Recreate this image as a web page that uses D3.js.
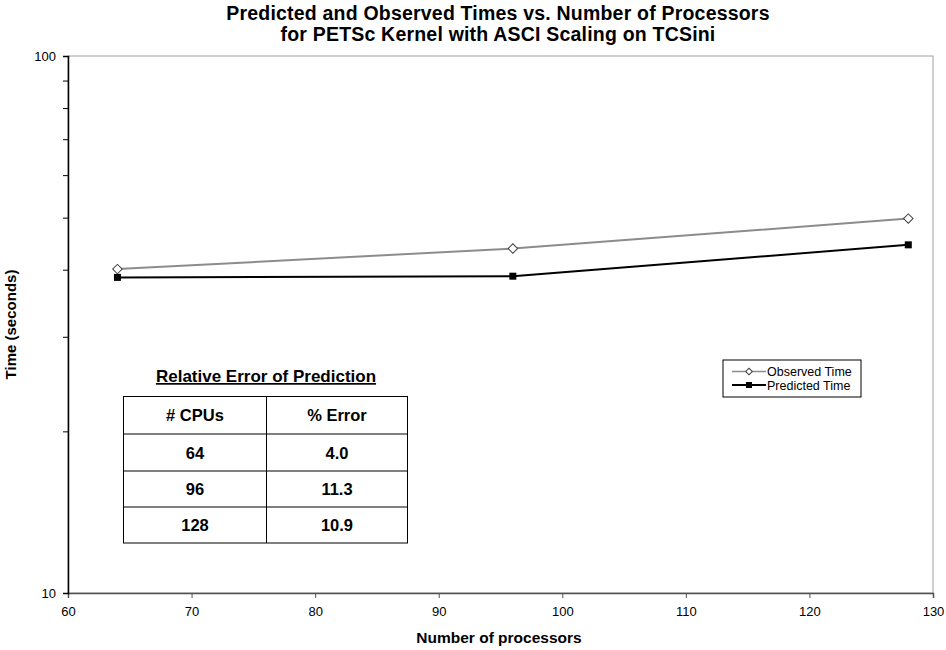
<!DOCTYPE html>
<html>
<head>
<meta charset="utf-8">
<script src="https://cdn.jsdelivr.net/npm/d3@7"></script>
<style>
  body { margin: 0; background: #fff; }
  svg text { font-family: Arial, "Liberation Sans", sans-serif; }
</style>
</head>
<body>
<svg id="chart" width="946" height="650"></svg>
<script>
// chart data
var processors = [64, 96, 128];
var observedTime = [40.1, 43.8, 49.8];
var predictedTime = [38.7, 38.9, 44.5];

var xTicks = [60, 70, 80, 90, 100, 110, 120, 130];
var yLabels = [10, 100];
var yMinor = [20, 30, 40, 50, 60, 70, 80, 90];

var errorHeader = ["# CPUs", "% Error"];
var errorCpus = ["64", "96", "128"];
var errorPct = ["4.0", "11.3", "10.9"];

var seriesNames = ["Observed Time", "Predicted Time"];

var margin = { left: 68, top: 56, right: 933, bottom: 593 };

var svg = d3.select("#chart");

var x = d3.scaleLinear().domain([60, 130]).range([margin.left, margin.right]);
var y = d3.scaleLog().domain([10, 100]).range([margin.bottom, margin.top]);

// plot area frame (top/right in gray)
svg.append("rect")
    .attr("x", margin.left).attr("y", margin.top)
    .attr("width", margin.right - margin.left)
    .attr("height", margin.bottom - margin.top)
    .attr("fill", "none").attr("stroke", "#a0a0a0").attr("stroke-width", 1);

// x axis
var xAxis = svg.append("g")
    .attr("transform", "translate(0," + margin.bottom + ")")
    .call(d3.axisBottom(x).tickValues(xTicks).tickSize(5).tickPadding(9));
xAxis.select(".domain").attr("stroke", "#505050").attr("stroke-width", 1.5);
xAxis.selectAll(".tick line").attr("stroke", "#505050");
xAxis.selectAll("text").attr("font-size", 13).attr("fill", "#000")
    .style("font-family", "Arial, 'Liberation Sans', sans-serif");

// y axis: minor ticks then labels
var yAxis = svg.append("g")
    .attr("transform", "translate(" + margin.left + ",0)")
    .call(d3.axisLeft(y).tickValues(yLabels.concat(yMinor)).tickSize(5).tickPadding(7)
        .tickFormat(function(d) { return yLabels.indexOf(d) >= 0 ? d : ""; }));
yAxis.select(".domain").attr("stroke", "#000").attr("stroke-width", 1.5);
yAxis.selectAll(".tick line").attr("stroke", "#000");
yAxis.selectAll("text").attr("font-size", 13).attr("fill", "#000")
    .style("font-family", "Arial, 'Liberation Sans', sans-serif");

// titles
svg.append("text").attr("x", 498).attr("y", 20).attr("text-anchor", "middle")
    .attr("font-size", 19.5).attr("font-weight", "bold").attr("letter-spacing", 0.2)
    .text("Predicted and Observed Times vs. Number of Processors");
svg.append("text").attr("x", 498).attr("y", 41).attr("text-anchor", "middle")
    .attr("font-size", 19.5).attr("font-weight", "bold").attr("letter-spacing", 0.2)
    .text("for PETSc Kernel with ASCI Scaling on TCSini");

svg.append("text").attr("x", 499).attr("y", 643).attr("text-anchor", "middle")
    .attr("font-size", 15.5).attr("font-weight", "bold")
    .text("Number of processors");

svg.append("text")
    .attr("transform", "translate(16," + ((margin.top + margin.bottom) / 2) + ") rotate(-90)")
    .attr("text-anchor", "middle")
    .attr("font-size", 15).attr("font-weight", "bold")
    .text("Time (seconds)");

// series
var line = d3.line()
    .x(function(d) { return x(d[0]); })
    .y(function(d) { return y(d[1]); });

var obs = d3.zip(processors, observedTime);
var pred = d3.zip(processors, predictedTime);

svg.append("path").datum(obs).attr("d", line)
    .attr("fill", "none").attr("stroke", "#8c8c8c").attr("stroke-width", 2);
svg.append("path").datum(pred).attr("d", line)
    .attr("fill", "none").attr("stroke", "#000").attr("stroke-width", 2);

var diamond = d3.symbol().type(d3.symbolSquare).size(45);

svg.selectAll(".obs").data(obs).enter().append("path")
    .attr("class", "obs")
    .attr("d", diamond)
    .attr("transform", function(d) { return "translate(" + x(d[0]) + "," + y(d[1]) + ") rotate(45)"; })
    .attr("fill", "#fff").attr("stroke", "#404040").attr("stroke-width", 1);

svg.selectAll(".pred").data(pred).enter().append("rect")
    .attr("class", "pred")
    .attr("x", function(d) { return x(d[0]) - 3.5; })
    .attr("y", function(d) { return y(d[1]) - 3.5; })
    .attr("width", 7).attr("height", 7)
    .attr("fill", "#000");

// legend
var legend = svg.append("g").attr("transform", "translate(723,360)");
legend.append("rect").attr("width", 138).attr("height", 37)
    .attr("fill", "#fff").attr("stroke", "#000").attr("stroke-width", 1);

seriesNames.forEach(function(name, i) {
    var ly = 11.5 + i * 13.5;
    var g = legend.append("g").attr("transform", "translate(0," + ly + ")");
    g.append("line").attr("x1", 9).attr("x2", 43).attr("y1", 0).attr("y2", 0)
        .attr("stroke", i === 0 ? "#8c8c8c" : "#000").attr("stroke-width", i === 0 ? 1.5 : 2);
    if (i === 0) {
        g.append("path").attr("d", d3.symbol().type(d3.symbolSquare).size(22))
            .attr("transform", "translate(26,0) rotate(45)")
            .attr("fill", "#fff").attr("stroke", "#404040");
    } else {
        g.append("rect").attr("x", 23).attr("y", -3).attr("width", 6).attr("height", 6).attr("fill", "#000");
    }
    g.append("text").attr("x", 44).attr("y", 4.5).attr("font-size", 12.5).text(name);
});

// error table
var tbl = svg.append("g");
var colX = [123.5, 266.5, 407.5];
var rowY = [396.5, 434, 471, 507, 543];

tbl.append("text").attr("x", 266).attr("y", 382).attr("text-anchor", "middle")
    .attr("font-size", 17).attr("font-weight", "bold")
    .attr("text-decoration", "underline")
    .text("Relative Error of Prediction");

tbl.append("rect").attr("x", colX[0]).attr("y", rowY[0])
    .attr("width", colX[2] - colX[0]).attr("height", rowY[4] - rowY[0])
    .attr("fill", "#fff").attr("stroke", "#000").attr("stroke-width", 1);
tbl.append("line").attr("x1", colX[1]).attr("x2", colX[1]).attr("y1", rowY[0]).attr("y2", rowY[4])
    .attr("stroke", "#000");
rowY.slice(1, 4).forEach(function(ry) {
    tbl.append("line").attr("x1", colX[0]).attr("x2", colX[2]).attr("y1", ry).attr("y2", ry)
        .attr("stroke", "#000");
});

var rows = [errorHeader].concat(d3.zip(errorCpus, errorPct));
rows.forEach(function(r, i) {
    var cy = (rowY[i] + rowY[i + 1]) / 2 + 6;
    r.forEach(function(v, j) {
        tbl.append("text").attr("x", (colX[j] + colX[j + 1]) / 2).attr("y", cy)
            .attr("text-anchor", "middle").attr("font-size", 16.5).attr("font-weight", "bold")
            .text(v);
    });
});
</script>
</body>
</html>
